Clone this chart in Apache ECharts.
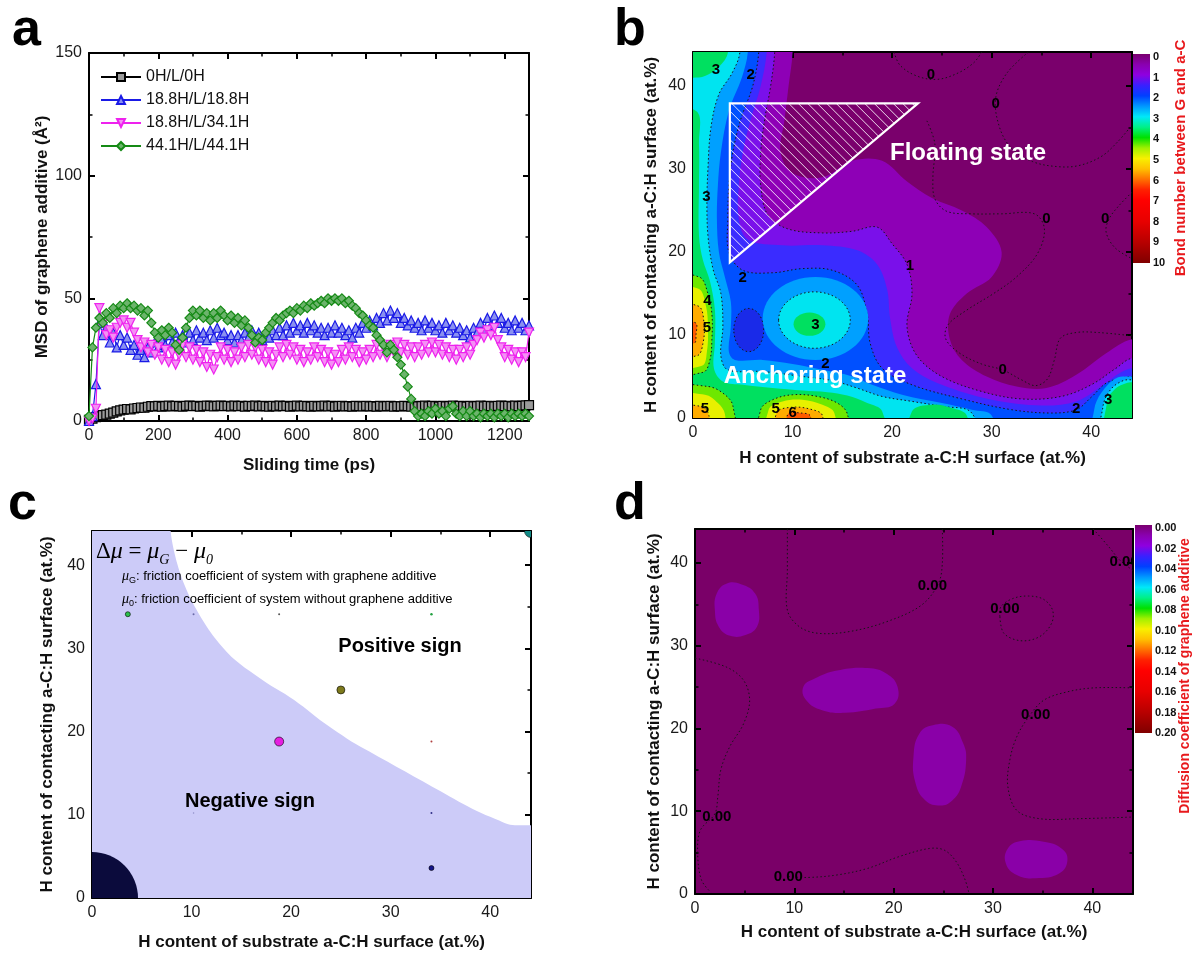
<!DOCTYPE html>
<html><head><meta charset="utf-8">
<script src="https://cdn.jsdelivr.net/npm/echarts/dist/echarts.min.js"></script>
<style>html,body{margin:0;padding:0;background:#fff}#chart{width:1199px;height:953px}</style>
</head><body><div id="chart"></div>
<script>
// ===================== DATA =====================
// ---- Panel a: MSD vs sliding time ----
const timePs = [0,10,20,30,40,50,60,70,80,90,100,110,120,130,140,150,160,170,180,190,200,210,220,230,240,250,260,270,280,290,300,310,320,330,340,350,360,370,380,390,400,410,420,430,440,450,460,470,480,490,500,510,520,530,540,550,560,570,580,590,600,610,620,630,640,650,660,670,680,690,700,710,720,730,740,750,760,770,780,790,800,810,820,830,840,850,860,870,880,890,900,910,920,930,940,950,960,970,980,990,1000,1010,1020,1030,1040,1050,1060,1070,1080,1090,1100,1110,1120,1130,1140,1150,1160,1170,1180,1190,1200,1210,1220,1230,1240,1250,1260,1270];
const msd0H = [0.5,1.0,1.6,2.0,2.4,2.6,3.0,3.4,3.9,4.3, 4.6,4.9,4.7,5.1,5.3,5.5,5.4,5.8,6.1,6.0, 6.2,5.9,6.1,6.3,6.0,6.2,6.1,5.9,6.2,6.3, 6.1,6.2,5.9,6.1,6.3,6.2,6.0,6.2,6.3,6.1, 6.2,6.0,6.3,6.1,6.2,5.9,6.2,6.1,6.3,6.0, 6.2,6.1,5.9,6.2,6.0,6.3,6.1,6.2,5.9,6.1, 6.3,6.0,6.2,6.1,5.9,6.2,6.0,6.1,6.3,6.0, 6.2,5.9,6.1,6.2,6.0,6.1,5.9,6.2,6.1,6.0, 6.2,6.0,6.1,5.9,6.2,6.0,6.1,6.2,5.9,6.1, 6.0,6.2,6.1,5.9,6.2,6.0,6.1,6.3,6.0,6.2, 6.1,5.9,6.2,6.0,6.1,6.3,6.0,6.2,6.1,5.9, 6.2,6.0,6.1,6.3,6.0,6.2,6.1,6.0,6.2,6.3, 6.1,6.2,6.0,6.3,6.1,6.2,6.4,6.5];
const msd188 = [0,2,15,40,35,38,32,36,30,35, 31,34,29,31,27,29,26,30,28,32, 30,33,31,35,32,36,33,35,32,36, 33,37,34,36,33,37,34,38,35,36, 33,35,32,35,33,36,34,37,34,36, 33,35,34,37,35,38,35,39,36,40, 37,39,36,40,37,39,36,38,35,38, 36,39,36,38,35,37,34,38,36,40, 38,41,39,42,40,44,41,45,42,44, 40,42,39,41,38,40,37,41,38,40, 37,39,36,40,37,39,36,38,35,37, 34,38,36,40,37,42,39,43,40,42, 38,40,37,41,38,40,37,39];
const msd341 = [0,1,5,46,40,35,37,34,38,40, 41,38,40,36,33,30,32,28,31,27, 30,25,29,24,28,23,27,31,26,30, 25,29,24,28,22,27,21,26,30,25, 29,24,28,25,30,26,31,27,30,25, 29,24,28,23,27,30,26,31,27,30, 25,29,24,28,25,30,26,29,24,28, 23,27,24,29,25,30,26,29,24,28, 25,29,26,31,27,30,26,31,28,32, 28,31,27,30,26,30,27,31,28,32, 28,31,27,30,26,29,25,29,26,30, 27,31,33,36,34,37,35,38,33,30, 26,29,25,28,24,28,26,36];
const msd441 = [2,30,38,42,40,44,42,46,44,47, 46,48,46,47,45,46,43,45,40,36, 34,37,35,38,36,31,29,34,38,42, 45,43,45,42,44,41,44,42,45,43, 41,43,40,42,39,41,38,35,32,34, 33,36,38,40,42,41,43,44,45,44, 46,45,47,46,48,47,48,49,48,50, 49,50,49,50,48,49,47,46,44,43, 41,39,38,35,33,31,28,31,29,26, 23,19,14,9,4,2,3,2,4,3, 5,3,4,2,5,6,3,2,4,2, 4,2,3,1.5,3,2,3,1.5,3,2, 3,1.5,3,2,3,2,3,2];
const seriesNamesA = ['0H/L/0H','18.8H/L/18.8H','18.8H/L/34.1H','44.1H/L/44.1H'];

// ---- Panel b: bond number contour (regions: [level, outline or ellipse]) ----
const bondRegions = [
  [0.5, [[10.0,50],[10.0,44],[9.6,40],[9.2,36],[8.8,32],[10,29.5],[13,29],[16,31],[19,31],[21.5,28.5],[24,26.5],[27,25],[29.5,23],[31,20],[30,17],[27.5,15],[25.8,12.5],[25.8,9.5],[27,7],[29.5,5],[32.5,3.8],[35.5,3.6],[38.5,5.2],[41.5,7.8],[44.1,9.5],[50,10],[50,-5],[-5,-5],[-5,50]]],
  [1, [[8.3,50],[8.2,44],[7.8,40],[7.2,36],[6.8,32],[6.8,28],[7.5,24.5],[9.5,22.8],[13,22.3],[16,22.5],[18.5,23],[20,21],[21.5,18.5],[22,15],[21.5,11],[22.5,7.5],[25,5],[29,3.2],[33,2.3],[37,2.6],[40,4],[42.5,6],[44.1,7.2],[50,7.5],[50,-5],[-5,-5],[-5,50]]],
  [1.5, [[7.6,50],[7.4,44],[6.8,40],[5.8,36],[5.0,32],[4.6,28],[4.6,24],[5.5,21.5],[9,20.8],[13,20.8],[16.5,20.2],[18.5,18.5],[19.5,15.5],[19.8,12],[20.5,8.5],[22,6],[25,4],[30,2.2],[35,1.5],[38.5,2],[41,3.8],[43,5.5],[44.1,6],[50,6],[50,-5],[-5,-5],[-5,50]]],
  [2, [[6.8,50],[6.6,44],[6.0,40],[4.8,36],[4.0,32],[3.6,28],[3.5,24],[3.6,20],[5,17.8],[8,17.5],[11,18],[14,17.8],[16.5,16],[17.5,12.5],[17.8,9],[19,6],[22,4],[27,2.3],[32,1.0],[36,0.6],[38.5,1],[40,2.5],[41.5,4.2],[43,4.8],[44.1,5],[50,5],[50,-5],[-5,-5],[-5,50]]],
  [1.8, [5.6,10.6,1.5,2.6]],
  [2.5, [[5.6,50],[5.5,44],[4.9,41],[3.6,37],[2.8,32],[2.5,28],[2.4,24],[2.6,20],[3.2,17],[3.8,14],[3.8,11],[3.6,8],[4.2,7],[7,7],[10,6.5],[13,5.8],[16,5],[18,4],[21,2.8],[25,1.8],[28,1],[30,0.3],[31,-5],[-5,-5],[-5,50]]],
  [2.5, [12.3,12,5.3,5.0]],
  [2.5, [[40,-5],[40.3,1],[41,3],[42.5,4.8],[44.1,5.0],[50,5],[50,-5]]],
  [3, [[4.8,50],[4.7,44],[3.9,41.5],[2.6,39],[1.8,35],[1.5,30],[1.4,26],[1.5,22],[2.0,18],[2.8,15],[3.0,11],[2.8,7.5],[3.5,5.8],[7,5.6],[11,5],[14,4.5],[16.5,3.6],[19,2.6],[22,2],[25,1.4],[28,0.6],[29,-5],[-5,-5],[-5,50]]],
  [3, [12.2,11.8,3.6,3.4]],
  [3, [[41,-5],[41.2,1.5],[42,3.5],[43.2,4.5],[44.1,4.6],[50,4.6],[50,-5]]],
  [3.5, [[-5,50],[3.6,50],[3.5,44],[2.6,42.3],[1.2,41.2],[0,41],[-5,41]]],
  [3.5, [[-5,37],[0.3,37],[0.6,33],[0.6,28],[0.6,22],[1.0,19],[1.7,16.5],[2.2,13],[2.2,9],[2.1,6],[3,4.4],[5,4],[8,3.6],[11,3.3],[13.5,3.1],[15.5,2.7],[17.5,1.8],[19,0.8],[19.5,-5],[-5,-5]]],
  [3.5, [[21.5,-5],[22,0.8],[24,1.6],[26,1.2],[27.5,0.3],[28,-5]]],
  [3.5, [[41.5,-5],[41.6,2],[42.5,3.6],[43.5,4.2],[44.1,4.3],[50,4.3],[50,-5]]],
  [3.5, [11.7,11.3,1.6,1.4]],
  [4, [[-5,17.5],[0.6,17],[1.5,15],[1.9,12.5],[1.9,9.5],[1.7,7],[1,5.5],[-5,5.3]]],
  [4, [[-5,4],[1.5,3.8],[3,3],[4,1.5],[4.3,-5]]],
  [4, [[6.5,-5],[6.8,1],[8,2.2],[10,2.8],[12.5,2.6],[14.5,1.8],[15.5,0.5],[16,-5]]],
  [4.5, [[-5,16],[0.5,15.6],[1.3,13.5],[1.5,11],[1.4,8],[0.9,6.3],[-5,6]]],
  [4.5, [[-5,3],[1.2,2.8],[2.5,1.8],[3.2,0.5],[3.4,-5]]],
  [4.5, [[7.3,-5],[7.6,1.0],[9,2.0],[11,2.2],[13,1.6],[14.2,0.6],[14.5,-5]]],
  [5, [[-5,14],[0.5,13.5],[1.1,11.5],[1.0,9],[0.4,7.5],[-5,7.5]]],
  [5, [[8.2,-5],[8.4,0.6],[10,1.3],[12,1.0],[13,0.3],[13.2,-5]]],
  [5, [[-5,1.6],[0.8,1.4],[1.6,0.3],[1.8,-5]]],
  [6, [[-5,12],[0.2,11.5],[0.3,10],[0.1,9],[-5,9]]],
  [6, [[9.2,-5],[9.5,0.4],[10.8,0.6],[11.8,0.2],[12,-5]]]
];
const bondZeroLines = [
  [[20.2,44.1],[20.8,42.5],[22.5,41.2],[24.5,40.8],[26.5,41.5],[28.2,42.8],[29,44.1]],
  [[33.7,44.1],[31.5,41.5],[30.4,38.5],[30.8,35],[32,32.5],[34.1,30.9],[36.5,30.3],[38.7,30.4],[41,31.5],[42.6,33.2],[44.1,35.3]],
  [[23.5,35.8],[24.3,33],[24.1,29],[24.3,26.4],[25.5,24.9],[28,24.6],[31,24.6],[34.3,24.6],[35.3,22.8],[34.6,19.8],[32.5,17],[30.2,15],[27.5,13],[25.6,11.2],[25.4,9.5],[26.8,7.8],[29,6.5],[31.1,5.8],[33,4.6],[34.4,3.9],[35.6,4.7],[36.3,7],[36.9,9.6],[38.5,10.3],[40.7,10.3],[44.1,9.9]],
  [[44.1,27.2],[42.8,25.6],[41.8,24],[41.5,22.4],[42.4,20.5],[44.1,19.2]]
];
const bondLabels = [[2.3,41.9,'3'],[5.8,41.4,'2'],[23.9,41.4,'0'],[30.4,37.9,'0'],[1.35,26.6,'3'],[35.5,24,'0'],[41.4,24,'0'],[21.8,18.3,'1'],[5.0,16.9,'2'],[1.46,14.1,'4'],[1.4,10.9,'5'],[12.3,11.2,'3'],[13.3,6.5,'2'],[31.1,5.8,'0'],[41.7,2.2,'3'],[38.5,1.1,'2'],[1.2,1.1,'5'],[8.3,1.1,'5'],[10,0.6,'6']];
const floatTriangle = [[3.7,37.9],[22.6,37.9],[3.7,18.75]];

// ---- Panel c: sign of friction change ----
const signBoundary = [[-5,-5],[-5,50],[7.9,50],[7.9,44.1],[8.6,40],[9.5,37],[10.8,34],[12.3,31.3],[14,29],[15.8,27.3],[17.6,25.8],[19.4,24.5],[21.2,23],[22.9,21.4],[24.7,19.9],[26.5,18.5],[28.3,17.3],[30.1,16.1],[31.9,14.9],[33.7,13.7],[35.5,12.5],[37.3,11.3],[39.1,10.2],[40.9,9.3],[42,8.8],[44.1,8.75],[50,8.75],[50,-5]];
const cPoints = [[0,0],[44.1,44.1],[3.6,34.1],[18.8,18.8],[25,25],[34.1,3.6],[10.2,34.1],[18.8,34.1],[34.1,34.1],[34.1,18.8],[34.1,10.2],[10.2,10.2]];

// ---- Panel d: diffusion coefficient ----
const diffBlobs = [
  [[3.16,37.5],[4.7,37.4],[6.05,36.3],[6.43,34.3],[6.24,32.3],[5.08,31.3],[3.54,31.2],[2.39,32.3],[2.0,34.3],[2.19,36.3]],
  [[12.0,26.0],[14.3,27.0],[17.4,27.3],[19.3,26.6],[20.4,25.0],[20.1,23.0],[18.2,22.4],[15.1,21.9],[12.8,22.2],[11.2,23.4],[10.9,25.0]],
  [[23.95,20.4],[25.9,20.2],[27.0,18.2],[27.3,16.2],[26.8,13.0],[25.9,11.3],[24.7,10.7],[23.2,11.3],[22.2,13.4],[22.0,16.6],[22.6,19.4]],
  [[32.8,6.4],[35.1,6.3],[36.9,5.5],[37.5,4.1],[36.7,2.5],[34.3,1.9],[32.4,2.3],[31.3,3.7],[31.5,5.5]]
];
const diffLines = [
  [[9.3,44.1],[9.3,39.1],[9.3,34.3],[10.5,32.3],[12.4,31.5],[15.5,31.7],[19.3,32.9],[22.8,34.9],[24.5,37.5],[24.9,39.9],[24.9,44.1]],
  [[30.7,33.5],[31.1,31.5],[32.8,30.6],[34.7,31.1],[35.9,32.7],[36.0,34.3],[35.1,35.6],[33.6,36.0],[32.0,35.7],[30.8,34.7],[30.7,33.5]],
  [[40.1,44.1],[41.7,41.9],[42.8,40.3],[44.1,39.1]],
  [[0,28.5],[3.2,27.4],[4.9,25.8],[5.5,23.4],[4.9,20.6],[3.5,17.8],[2.6,15.0],[2.3,11.8],[2.0,9.7],[0.54,7.7],[0.27,4.9],[0.65,1.7],[1.6,0.2]],
  [[9.4,2.1],[11.4,2.0],[14.3,2.3],[17.4,3.1],[20.5,4.5],[23.6,5.5],[25.1,5.3],[26.3,3.9],[27.2,1.7],[27.6,0]],
  [[44.1,24.9],[40.1,24.9],[37.4,24.4],[35.1,23.4],[33.6,21.4],[32.4,19.0],[31.7,16.2],[31.5,13.0],[32.4,10.1],[34.7,9.1],[38.6,9.1],[44.1,9.3]]
];
const diffLabels = [[23.9,37.2,'0.00'],[31.2,34.4,'0.00'],[43.2,40.1,'0.00'],[34.3,21.7,'0.00'],[2.2,9.3,'0.00'],[9.4,2.1,'0.00']];

// ===================== STYLE =====================
const FONT = '"Liberation Sans", Arial, Helvetica, sans-serif';
const bondStops = [[0,'#7a006e'],[0.5,'#8a00b0'],[1,'#8f00e0'],[1.5,'#3a20ff'],[2,'#0040ff'],[2.5,'#0098ff'],[3,'#00e8f8'],[3.5,'#00f088'],[4,'#00e000'],[4.5,'#a0f000'],[5,'#f8f000'],[5.5,'#ffc000'],[6,'#ff7000'],[6.5,'#ff2000'],[7,'#ff0000'],[8,'#e80000'],[9,'#b80000'],[10,'#800000']];
const bondFill = {0.5:'#8e00b6',1:'#7a10ea',1.5:'#3a2cff',1.8:'#1a2ae8',2:'#0050ff',2.5:'#00a0ff',3:'#00e4f0',3.5:'#00e060',4:'#6ee800',4.5:'#e8f000',5:'#ffac00',6:'#ff5a00'};
const cBubbleDiam = [92,13,5,9,8,5,2,2,2.5,2,2,1.5];
const cBubbleColor = ['#0b0b3c','#138a86','#2cc04a','#e51ee0','#7d7a1c','#14148a','#6a6aa8','#555555','#22a040','#b04040','#303088','#9090c8'];

function axisX(grid, min, max, interval, pos, labels, extra) {
  return Object.assign({
    type:'value', gridIndex:grid, min, max, interval, position:pos,
    axisLine:{show:true, onZero:false, lineStyle:{color:'#000', width:2}},
    axisTick:{show:true, inside:true, length:6, lineStyle:{color:'#000', width:2}},
    minorTick:{show:true, splitNumber:2, length:3.5, lineStyle:{color:'#000', width:1.5}},
    splitLine:{show:false}, minorSplitLine:{show:false},
    axisLabel:{show:labels, fontSize:16, color:'#1a1a1a', fontFamily:FONT, margin:7, showMaxLabel:(max===150), formatter: v => String(v)}
  }, extra||{});
}
const nameStyle = {fontSize:17, fontWeight:'bold', fontFamily:FONT, color:'#111'};
function hAxes(grid, min, max, interval, title, gap) {
  return [axisX(grid,min,max,interval,'bottom',true,{name:title,nameLocation:'middle',nameGap:gap,nameTextStyle:nameStyle}), axisX(grid,min,max,interval,'top',false)];
}
function vAxes(grid, min, max, interval, title, gap) {
  return [axisX(grid,min,max,interval,'left',true,{name:title,nameLocation:'middle',nameGap:gap,nameTextStyle:nameStyle}), axisX(grid,min,max,interval,'right',false)];
}
const HT = 'H content of substrate a-C:H surface (at.%)';
const VT = 'H content of contacting a-C:H surface (at.%)';

function regionRender(list, fillOf, dotted) {
  return function (params, api) {
    const r = list[params.dataIndex];
    const g = r[1];
    const style = {fill: fillOf(r[0]), stroke: dotted(r[0]) ? '#151515' : null, lineWidth: 1, lineDash: [1.5, 2.5]};
    if (typeof g[0] === 'number') {
      const c = api.coord([g[0], g[1]]);
      const s = api.size([g[2], g[3]]);
      return {type:'ellipse', shape:{cx:c[0], cy:c[1], rx:s[0], ry:s[1]}, style};
    }
    return {type:'polygon', shape:{points: g.map(p => api.coord(p)), smooth: 0.35}, style};
  };
}
function lineRender(list) {
  return function (params, api) {
    return {type:'polyline', shape:{points: list[params.dataIndex].map(p => api.coord(p)), smooth:0.35},
      style:{fill:null, stroke:'#151515', lineWidth:1, lineDash:[1.5,2.5]}};
  };
}
function labelRender(list, font) {
  return function (params, api) {
    const l = list[params.dataIndex];
    const c = api.coord([l[0], l[1]]);
    return {type:'text', x:c[0], y:c[1], style:{text:l[2], font, fill:'#000', align:'center', verticalAlign:'middle', textAlign:'center', textVerticalAlign:'middle'}};
  };
}
function colorbarRender(stops, vmax) {
  return function (params, api) {
    const p0 = api.coord([0, 0]), p1 = api.coord([1, vmax]);
    const grad = new echarts.graphic.LinearGradient(0,0,0,1, stops.map(s => ({offset: s[0]/10, color: s[1]})));
    return {type:'rect', shape:{x:p0[0], y:Math.min(p0[1],p1[1]) - 3, width:p1[0]-p0[0], height:Math.abs(p1[1]-p0[1]) + 3}, style:{fill:grad}};
  };
}
const idx = arr => arr.map((_, i) => [i, i]);

const symA = ['rect','triangle','path://M0,0L10,0L5,9Z','diamond'];
const colA = ['#000000','#1a1ae6','#ee22ee','#158a15'];
const fillA = ['#9a9a9a','#8a90f0','#f490f4','#6cb46c'];
const valsA = [msd0H, msd188, msd341, msd441];

const series = [];
valsA.forEach((v, k) => {
  series.push({type:'line', name:seriesNamesA[k], xAxisIndex:0, yAxisIndex:0, z:3+k,
    data: timePs.map((t, i) => [t, v[i]]), symbol:symA[k], symbolSize:9, showSymbol:true, showAllSymbol:true,
    lineStyle:{color:colA[k], width:1.2}, itemStyle:{color:fillA[k], borderColor:colA[k], borderWidth:1.2, opacity:1}});
});
// panel b
series.push({type:'custom', xAxisIndex:2, yAxisIndex:2, z:2, clip:true, data:idx(bondRegions),
  renderItem: regionRender(bondRegions, lv => bondFill[lv], lv => Number.isInteger(lv) || lv === 1.8)});
series.push({type:'custom', xAxisIndex:2, yAxisIndex:2, z:3, clip:true, data:idx(bondZeroLines), renderItem: lineRender(bondZeroLines)});
series.push({type:'custom', xAxisIndex:2, yAxisIndex:2, z:4, clip:true, data:idx(bondLabels), renderItem: labelRender(bondLabels, 'bold 15px ' + FONT)});
series.push({type:'custom', xAxisIndex:2, yAxisIndex:2, z:5, clip:true, data:[[0,0]],
  renderItem: function (params, api) {
    const A = api.coord(floatTriangle[0]), B = api.coord(floatTriangle[1]), C = api.coord(floatTriangle[2]);
    const xl = A[0], yt = A[1], xr = B[0], yb = C[1];
    const children = [];
    const step = 9.5;
    for (let c = (yt - xr) + step * 0.6; c < yb - xl; c += step) {
      const pts = [];
      const yL = xl + c; if (yL >= yt && yL <= yb) pts.push([xl, yL]);
      const xT = yt - c; if (xT >= xl && xT <= xr) pts.push([xT, yt]);
      const t = (c - yb + xl) / ((yt - yb) - (xr - xl));
      if (t >= 0 && t <= 1) pts.push([xl + t * (xr - xl), yb + t * (yt - yb)]);
      if (pts.length >= 2) children.push({type:'line', shape:{x1:pts[0][0], y1:pts[0][1], x2:pts[pts.length-1][0], y2:pts[pts.length-1][1]}, style:{stroke:'rgba(255,255,255,0.85)', lineWidth:1}});
    }
    children.push({type:'polygon', shape:{points:[A,B,C]}, style:{fill:null, stroke:'#ffffff', lineWidth:2.2}});
    return {type:'group', children};
  }});
// panel c
series.push({type:'custom', xAxisIndex:4, yAxisIndex:4, z:2, clip:true, data:[[0,0]],
  renderItem: (params, api) => ({type:'polygon', shape:{points: signBoundary.map(p => api.coord(p)), smooth:0.3}, style:{fill:'#cccbf8'}})});
series.push({type:'custom', xAxisIndex:4, yAxisIndex:4, z:4, clip:true, data:cPoints,
  renderItem: (params, api) => {
    const i = params.dataIndex;
    const c = api.coord(cPoints[i]);
    const d = cBubbleDiam[i];
    return {type:'circle', shape:{cx:c[0], cy:c[1], r:d/2},
      style:{fill:cBubbleColor[i], stroke:(d > 4 && d < 50) ? 'rgba(0,0,0,0.75)' : null, lineWidth:0.8}};
  }});
// panel d
series.push({type:'custom', xAxisIndex:6, yAxisIndex:6, z:2, clip:true, data:idx(diffBlobs),
  renderItem: (params, api) => ({type:'polygon', shape:{points: diffBlobs[params.dataIndex].map(p => api.coord(p)), smooth:0.45}, style:{fill:'#8a00a8'}})});
series.push({type:'custom', xAxisIndex:6, yAxisIndex:6, z:3, clip:true, data:idx(diffLines), renderItem: lineRender(diffLines)});
series.push({type:'custom', xAxisIndex:6, yAxisIndex:6, z:4, clip:true, data:idx(diffLabels), renderItem: labelRender(diffLabels, 'bold 15px ' + FONT)});
// colorbars
series.push({type:'custom', xAxisIndex:8, yAxisIndex:8, z:2, clip:false, data:[[0,0]], renderItem: colorbarRender(bondStops, 10)});
series.push({type:'custom', xAxisIndex:9, yAxisIndex:9, z:2, clip:false, data:[[0,0]], renderItem: colorbarRender(bondStops, 0.2)});

const cbY = (grid, max, interval, fmt) => ({type:'value', gridIndex:grid, min:0, max, interval, inverse:true, position:'right',
  axisLine:{show:false}, axisTick:{show:false}, splitLine:{show:false},
  axisLabel:{fontSize:11, fontWeight:'bold', fontFamily:FONT, color:'#111', margin:3, formatter:fmt}});
const cbX = grid => ({type:'value', gridIndex:grid, min:0, max:1, show:false});

const xAxes = [].concat(
  hAxes(0, 0, 1270, 200, 'Sliding time (ps)', 36),
  hAxes(1, 0, 44.1, 10, HT, 32),
  hAxes(2, 0, 44.1, 10, HT, 36),
  hAxes(3, 0, 44.1, 10, HT, 30),
  [cbX(4), cbX(5)]
);
const yAxes = [].concat(
  vAxes(0, 0, 150, 50, 'MSD of graphene additive (Å²)', 38),
  vAxes(1, 0, 44.1, 10, VT, 33),
  vAxes(2, 0, 44.1, 10, VT, 36),
  vAxes(3, 0, 44.1, 10, VT, 32),
  [cbY(4, 10, 1, v => String(Math.round(v))), cbY(5, 0.2, 0.02, v => v.toFixed(2))]
);

const txt = (x, y, text, font, extra) => Object.assign({type:'text', x, y, z:100,
  style:Object.assign({text, font, fill:'#000', align:'left', verticalAlign:'middle', textAlign:'left', textVerticalAlign:'middle'}, extra||{})});

const option = {
  animation:false,
  backgroundColor:'#ffffff',
  textStyle:{fontFamily:FONT},
  grid:[
    {left:89, top:53, width:440, height:368},
    {left:693, top:52, width:439, height:366, show:true, backgroundColor:'#7a006c', borderWidth:0},
    {left:92, top:531, width:439, height:367, show:true, backgroundColor:'#ffffff', borderWidth:0},
    {left:695, top:529, width:438, height:365, show:true, backgroundColor:'#7a0068', borderWidth:0},
    {left:1133, top:57, width:17, height:206},
    {left:1135, top:528, width:17, height:205}
  ],
  xAxis: xAxes,
  yAxis: yAxes,
  legend:{data:seriesNamesA, left:95, top:64, orient:'vertical', itemGap:7, itemWidth:40, itemHeight:10, selectedMode:false,
    textStyle:{fontSize:16, fontFamily:FONT, color:'#111'}},
  series,
  graphic:[
    txt(12, 31, 'a', 'bold 52px ' + FONT),
    txt(614, 31, 'b', 'bold 52px ' + FONT),
    txt(8, 505, 'c', 'bold 52px ' + FONT),
    txt(614, 505, 'd', 'bold 52px ' + FONT),
    txt(968, 153, 'Floating state', 'bold 24px ' + FONT, {fill:'#fff', align:'center', textAlign:'center'}),
    txt(815, 376, 'Anchoring state', 'bold 24px ' + FONT, {fill:'#fff', align:'center', textAlign:'center'}),
    txt(400, 646, 'Positive sign', 'bold 20px ' + FONT, {align:'center', textAlign:'center'}),
    txt(250, 801, 'Negative sign', 'bold 20px ' + FONT, {align:'center', textAlign:'center'}),
    {type:'text', x:96, y:552, z:100, style:{text:'{n|Δ}{i|μ}{n| = }{i|μ}{s|G}{n| − }{i|μ}{s|0}', align:'left', verticalAlign:'middle', textAlign:'left', textVerticalAlign:'middle',
      rich:{n:{fontFamily:'"Liberation Serif", serif', fontSize:23, lineHeight:30, color:'#111'},
            i:{fontFamily:'"Liberation Serif", serif', fontStyle:'italic', fontSize:24, lineHeight:30, color:'#111'},
            s:{fontFamily:'"Liberation Serif", serif', fontStyle:'italic', fontSize:14, lineHeight:30, verticalAlign:'bottom', color:'#111'}}}},
    {type:'text', x:122, y:576, z:100, style:{text:'{i|μ}{s|G}{t|: friction coefficient of system with graphene additive}', align:'left', verticalAlign:'middle', textAlign:'left', textVerticalAlign:'middle',
      rich:{i:{fontFamily:'"Liberation Serif", serif', fontStyle:'italic', fontSize:14, lineHeight:18, color:'#111'}, s:{fontFamily:FONT, fontSize:9, lineHeight:18, verticalAlign:'bottom', color:'#111'}, t:{fontFamily:FONT, fontSize:13, lineHeight:18, color:'#111'}}}},
    {type:'text', x:122, y:599, z:100, style:{text:'{i|μ}{s|0}{t|: friction coefficient of system without graphene additive}', align:'left', verticalAlign:'middle', textAlign:'left', textVerticalAlign:'middle',
      rich:{i:{fontFamily:'"Liberation Serif", serif', fontStyle:'italic', fontSize:14, lineHeight:18, color:'#111'}, s:{fontFamily:FONT, fontSize:9, lineHeight:18, verticalAlign:'bottom', color:'#111'}, t:{fontFamily:FONT, fontSize:13, lineHeight:18, color:'#111'}}}},
    {type:'text', x:1181, y:158, z:100, rotation:Math.PI/2, style:{text:'Bond number between G and a-C', font:'bold 15px ' + FONT, fill:'#e8191c', align:'center', verticalAlign:'middle', textAlign:'center', textVerticalAlign:'middle'}},
    {type:'text', x:1185, y:676, z:100, rotation:Math.PI/2, style:{text:'Diffusion coefficient of graphene additive', font:'bold 14px ' + FONT, fill:'#e8191c', align:'center', verticalAlign:'middle', textAlign:'center', textVerticalAlign:'middle'}}
  ]
};
const chart = echarts.init(document.getElementById('chart'));
chart.setOption(option);
</script>
</body></html>
